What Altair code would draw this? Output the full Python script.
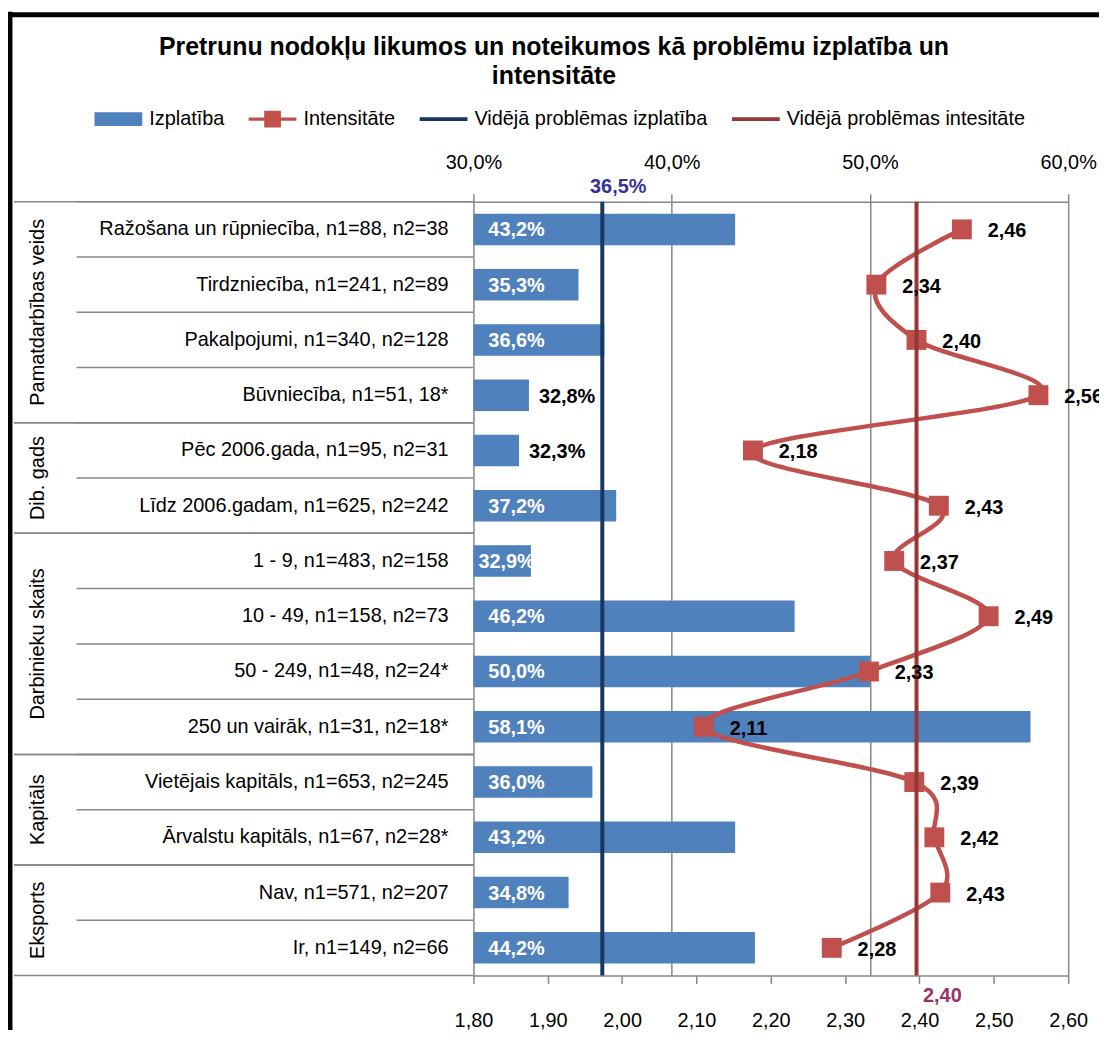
import altair as alt
import pandas as pd

FONT = "Liberation Sans, Arial, sans-serif"
FS = 20
BLUE = "#4F81BD"
RED = "#C0504D"
NAVY = "#17375E"
DRED = "#953735"
GRAY = "#878787"

title_lines = ["Pretrunu nodokļu likumos un noteikumos kā problēmu izplatība un", "intensitāte"]

categories = [
    "Ražošana un rūpniecība,  n1=88, n2=38",
    "Tirdzniecība, n1=241, n2=89",
    "Pakalpojumi,  n1=340, n2=128",
    "Būvniecība, n1=51, 18*",
    "Pēc 2006.gada, n1=95, n2=31",
    "Līdz 2006.gadam, n1=625, n2=242",
    "1 - 9, n1=483, n2=158",
    "10 - 49, n1=158, n2=73",
    "50 - 249, n1=48, n2=24*",
    "250 un vairāk, n1=31, n2=18*",
    "Vietējais kapitāls,  n1=653, n2=245",
    "Ārvalstu kapitāls, n1=67, n2=28*",
    "Nav, n1=571, n2=207",
    "Ir, n1=149, n2=66",
]
group_names = ["Pamatdarbības veids", "Dib. gads", "Darbinieku skaits", "Kapitāls", "Eksports"]
group_sizes = [4, 2, 4, 2, 2]

izplatiba = [43.2, 35.3, 36.6, 32.8, 32.3, 37.2, 32.9, 46.2, 50.0, 58.1, 36.0, 43.2, 34.8, 44.2]
intensitate = [2.457, 2.342, 2.396, 2.560, 2.176, 2.426, 2.366, 2.493, 2.332, 2.110, 2.393, 2.420, 2.428, 2.282]

mean_izplatiba = 36.5
mean_intensitate = 2.396

pct_ticks = [30, 40, 50, 60]
int_ticks = [1.8, 1.9, 2.0, 2.1, 2.2, 2.3, 2.4, 2.5, 2.6]

legend_names = ["Izplatība", "Intensitāte", "Vidējā problēmas izplatība", "Vidējā problēmas intesitāte"]
legend_colors = [BLUE, RED, NAVY, DRED]
legend_shapes = [
    "M-1,-0.29H1V0.29H-1Z",
    "M-1,-0.07H1V0.07H-1Z M-0.35,-0.35H0.35V0.35H-0.35Z",
    "M-1,-0.08H1V0.08H-1Z",
    "M-1,-0.08H1V0.08H-1Z",
]

# ---- tables built from the arrays ----
grp_of_row = [g for g, n in zip(group_names, group_sizes) for _ in range(n)]
df = pd.DataFrame({
    "cat": categories,
    "grp": grp_of_row,
    "izpl": izplatiba,
    "intens": intensitate,
    "idx": list(range(len(categories))),
})
starts = []
s = 0
for n in group_sizes:
    starts.append(s)
    s += n
g_first = pd.DataFrame({"cat": [categories[a] for a in starts]})
g_last = pd.DataFrame({"cat": [categories[a + n - 1] for a, n in zip(starts, group_sizes)]})
g_mid = pd.DataFrame({"cat": [categories[a + n // 2] for a, n in zip(starts, group_sizes)],
                      "grp": group_names})
one = pd.DataFrame({"k": [0]})
mean_p = pd.DataFrame({"m": [mean_izplatiba]})
mean_i = pd.DataFrame({"m": [mean_intensitate]})
leg_df = pd.DataFrame({"s": legend_names})

yscale = alt.Scale(domain=categories, paddingInner=0, paddingOuter=0)
pscale = alt.Scale(domain=[30, 60], nice=False, zero=False)
iscale = alt.Scale(domain=[1.8, 2.6], nice=False, zero=False)

PCT_EXPR = "replace(format(datum.value, '.1f'), '.', ',') + '%'"
INT_EXPR = "replace(format(datum.value, '.2f'), '.', ',')"

paxis = alt.Axis(orient="top", values=pct_ticks, labelExpr=PCT_EXPR, title=None, grid=True,
                 gridColor=GRAY, gridWidth=1.5, tickSize=8, tickColor=GRAY, tickWidth=1.5,
                 domainColor=GRAY, domainWidth=1.5, labelFontSize=FS, labelFont=FONT,
                 labelPadding=21, labelFlush=False, labelColor="black")
iaxis = alt.Axis(orient="bottom", values=int_ticks, labelExpr=INT_EXPR, title=None, grid=False,
                 tickSize=8, tickColor=GRAY, tickWidth=1.5, domainColor=GRAY, domainWidth=1.5,
                 labelFontSize=FS, labelFont=FONT, labelPadding=27, labelFlush=False,
                 labelColor="black")


def ycat(**kw):
    return alt.Y("cat:N", scale=yscale, axis=None, title=None, **kw)


# ---- left label area: category names, row and group separators, group names ----
row_rules = alt.Chart(df).mark_rule(color=GRAY, strokeWidth=1.5).encode(
    y=ycat(bandPosition=0), x=alt.value(-399), x2=alt.value(0))
grp_rules_top = alt.Chart(g_first).mark_rule(color=GRAY, strokeWidth=1.5).encode(
    y=ycat(bandPosition=0), x=alt.value(-462), x2=alt.value(0))
grp_rules_bot = alt.Chart(g_last).mark_rule(color=GRAY, strokeWidth=1.5).encode(
    y=ycat(bandPosition=1), x=alt.value(-462), x2=alt.value(0))
cat_text = alt.Chart(df).mark_text(align="right", baseline="middle", fontSize=FS,
                                   color="black").encode(
    y=ycat(), x=alt.value(-25), text="cat:N")
grp_text = alt.Chart(g_mid).mark_text(angle=270, fontSize=FS, align="center", baseline="middle",
                                      color="black").encode(
    y=ycat(bandPosition=0), x=alt.value(-438), text="grp:N")

# ---- bars ----
bars = alt.Chart(df).mark_bar(color=BLUE, height={"band": 0.57}).encode(
    x=alt.X("izpl:Q", scale=pscale, axis=paxis),
    x2=alt.datum(30),
    y=ycat(),
)
lbl_calc = "replace(format(datum.izpl, '.1f'), '.', ',') + '%'"


def bar_label(cond, dx, color, x_enc, dy=1):
    return alt.Chart(df).transform_filter(cond).transform_calculate(lbl=lbl_calc).mark_text(
        align="left", baseline="middle", dx=dx, dy=dy, color=color, fontWeight="bold",
        fontSize=FS).encode(x=x_enc, y=ycat(), text="lbl:N")


base_x = alt.XDatum(30, scale=pscale, axis=None, type="quantitative")
end_x = alt.X("izpl:Q", scale=pscale, axis=None)
# labels sit at the bar base; short bars push them in tighter, shortest ones go outside
bar_lbl_in = bar_label("datum.izpl >= 33.5", 15, "white", base_x)
bar_lbl_tight = bar_label("datum.izpl >= 32.85 && datum.izpl < 33.5", 5, "white", base_x)
bar_lbl_out = bar_label("datum.izpl < 32.85", 10, "black", end_x, dy=2)

mean_p_rule = alt.Chart(mean_p).mark_rule(color=NAVY, strokeWidth=4).encode(
    x=alt.X("m:Q", scale=pscale, axis=None))
mean_p_lbl = alt.Chart(mean_p).transform_calculate(
    lbl="replace(format(datum.m, '.1f'), '.', ',') + '%'").mark_text(
    color="#333399", fontWeight="bold", fontSize=FS, align="center", baseline="middle", dx=16).encode(
    x=alt.X("m:Q", scale=pscale, axis=None), y=alt.value(-15), text="lbl:N")

# ---- intensity series ----
int_line = alt.Chart(df).mark_line(color=RED, strokeWidth=4.5, interpolate="cardinal").encode(
    x=alt.X("intens:Q", scale=iscale, axis=iaxis), y=ycat(), order=alt.Order("idx:Q"))
int_pts = alt.Chart(df).mark_point(shape="square", filled=True, size=400, color=RED,
                                   opacity=1).encode(
    x=alt.X("intens:Q", scale=iscale, axis=None), y=ycat())
mean_i_rule = alt.Chart(mean_i).mark_rule(color=DRED, strokeWidth=4).encode(
    x=alt.X("m:Q", scale=iscale, axis=None))
mean_i_lbl = alt.Chart(mean_i).transform_calculate(
    lbl="replace(format(datum.m, '.2f'), '.', ',')").mark_text(
    color="#993366", fontWeight="bold", fontSize=FS, align="center", baseline="middle", dx=26).encode(
    x=alt.X("m:Q", scale=iscale, axis=None), y=alt.value(799), text="lbl:N")
int_lbl = alt.Chart(df).transform_calculate(
    lbl="replace(format(datum.intens, '.2f'), '.', ',')").mark_text(
    align="left", baseline="middle", dx=26, dy=2, color="black", fontWeight="bold",
    fontSize=FS).encode(
    x=alt.X("intens:Q", scale=iscale, axis=None), y=ycat(), text="lbl:N")

# ---- legend (from colour/shape scales, no marks drawn) ----
LEG = alt.Legend(orient="none", legendX=-381, legendY=-107, direction="horizontal", title=None,
                 labelFontSize=FS, labelFont=FONT, labelColor="black", labelOffset=7,
                 columnPadding=24, symbolSize=2304, symbolStrokeWidth=0, symbolOpacity=1,
                 labelLimit=1000, padding=0)
legend_layer = alt.Chart(leg_df).transform_filter("false").mark_point(
    filled=True, size=2304, opacity=1).encode(
    color=alt.Color("s:N", scale=alt.Scale(domain=legend_names, range=legend_colors), legend=LEG),
    shape=alt.Shape("s:N", scale=alt.Scale(domain=legend_names, range=legend_shapes), legend=LEG),
)

# ---- frame and title ----
left_border = alt.Chart(one).mark_rule(color="black", strokeWidth=5).encode(
    x=alt.value(-466), y=alt.value(-191), y2=alt.value(840))
top_border = alt.Chart(one).mark_rule(color="black", strokeWidth=5).encode(
    x=alt.value(-470), x2=alt.value(640), y=alt.value(-188))
title = alt.Chart(one).mark_text(text=title_lines, fontSize=25, fontWeight="bold", align="center",
                                 baseline="middle", lineHeight=30, color="black").encode(
    x=alt.value(81), y=alt.value(-156))

chart = alt.layer(
    row_rules, grp_rules_top, grp_rules_bot, cat_text, grp_text,
    bars, bar_lbl_in, bar_lbl_tight, bar_lbl_out, mean_p_rule, mean_p_lbl,
    int_line, int_pts, mean_i_rule, mean_i_lbl, int_lbl,
    legend_layer, left_border, top_border, title,
).resolve_scale(x="independent").properties(
    width=598, height=778,
    padding={"left": 468, "top": 192, "right": 31, "bottom": 52},
    autosize=alt.AutoSizeParams(type="none"),
).configure(font=FONT).configure_view(stroke=None)

chart.save("out.html", embed_options={"renderer": "svg", "actions": False})
